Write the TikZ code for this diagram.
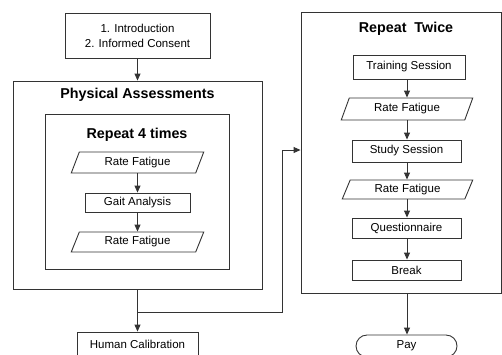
\documentclass[tikz,border=0pt]{standalone}
\usepackage{fontspec}
\setmainfont{Liberation Sans}
\usetikzlibrary{arrows.meta,shapes.geometric}
\definecolor{ln}{HTML}{333333}
\tikzset{
  box/.style={draw=ln,line width=0.9pt,rectangle,inner sep=0pt,font=\fontsize{11.5}{15}\selectfont,text=black},
  frame/.style={draw=ln,line width=0.9pt,rectangle,inner sep=0pt},
  para/.style={draw=ln,line width=0.9pt,trapezium,trapezium left angle=67,trapezium right angle=113,trapezium stretches=true,inner sep=0pt,font=\fontsize{11.5}{15}\selectfont,text=black},
  title/.style={font=\fontsize{14.3}{16}\selectfont\bfseries,text=black,inner sep=0pt},
  arr/.style={-{Triangle[length=7pt,width=6pt]},draw=ln,line width=0.9pt},
  ln/.style={draw=ln,line width=0.9pt}
}
\begin{document}
\begin{tikzpicture}[x=1pt,y=-1pt]
\useasboundingbox (0,0) rectangle (502,354);
\clip (0,0) rectangle (502,354);
% left column
\node[box,minimum width=145pt,minimum height=45pt,align=center] (intro) at (137.5,35.5) {1. Introduction\\2. Informed Consent};
\node[frame,minimum width=249pt,minimum height=208pt] (phys) at (137.5,185) {};
\node[title] (physt) at (137.5,95) {Physical Assessments};
\node[frame,minimum width=184pt,minimum height=155pt] (rep4) at (137,191.5) {};
\node[title] (rep4t) at (137,135) {Repeat 4 times};
\node[para,minimum width=133pt,minimum height=21pt] (rf1) at (137.5,162.5) {Rate Fatigue};
\node[box,minimum width=105pt,minimum height=19pt] (gait) at (137.5,202.5) {Gait Analysis};
\node[para,minimum width=133pt,minimum height=20pt] (rf2) at (137.5,242) {Rate Fatigue};
\node[box,minimum width=121pt,minimum height=24pt] (hc) at (137.5,344) {Human Calibration};
\coordinate (j) at (137.5,312);
\coordinate (c1) at (282,312);
\coordinate (c2) at (282,150);
% right column
\node[frame,minimum width=200pt,minimum height=281pt] (rt) at (401,152.5) {};
\node[title] (rtt) at (406,29) {Repeat\ \ Twice};
\node[box,minimum width=112pt,minimum height=24pt] (ts) at (409,67) {Training Session};
\node[para,minimum width=132pt,minimum height=22pt] (rf3) at (407,109) {Rate Fatigue};
\node[box,minimum width=109pt,minimum height=22pt] (ss) at (406.5,151) {Study Session};
\node[para,minimum width=131pt,minimum height=19pt] (rf4) at (407.5,189.5) {Rate Fatigue};
\node[box,minimum width=109pt,minimum height=20pt] (q) at (406.5,228) {Questionnaire};
\node[box,minimum width=109pt,minimum height=20pt] (brk) at (406.5,270) {Break};
\node[box,rounded corners=11pt,minimum width=101pt,minimum height=22pt] (pay) at (406.5,346) {Pay};
% connectors
\draw[arr] (rf1.south -| 137.5,0) -- (gait.north -| 137.5,0);
\draw[arr] (intro.south) -- (intro.south |- phys.north);
\draw[arr] (gait.south) -- (rf2.north -| gait.south);
\draw[ln] (phys.south -| j) -- (j);
\draw[arr] (j) -- (hc.north -| j);
\draw[arr] (j) -- (c1) -- (c2) -- (c2 -| rt.west);
\draw[arr] (ts.south -| 407,0) -- (rf3.north -| 407,0);
\draw[arr] (rf3.south -| 407,0) -- (ss.north -| 407,0);
\draw[arr] (ss.south -| 407,0) -- (rf4.north -| 407,0);
\draw[arr] (rf4.south -| 407,0) -- (q.north -| 407,0);
\draw[arr] (q.south -| 407,0) -- (brk.north -| 407,0);
\draw[arr] (rt.south -| 407,0) -- (pay.north -| 407,0);
\end{tikzpicture}
\end{document}
